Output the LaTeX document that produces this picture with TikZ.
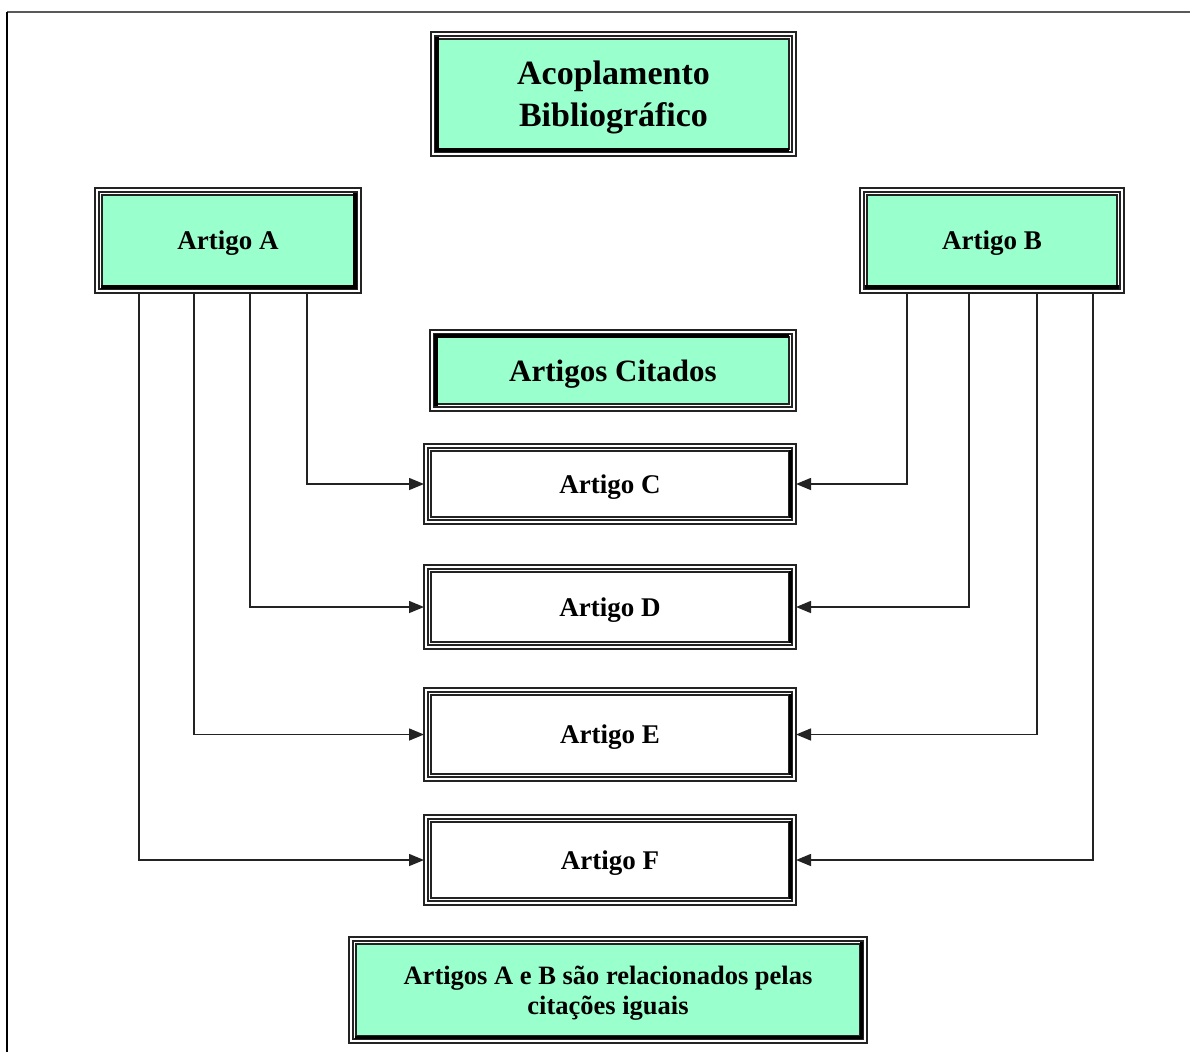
\documentclass[tikz,border=0pt]{standalone}
\usepackage{fontspec}
\setmainfont{Liberation Serif}
\usetikzlibrary{arrows.meta,backgrounds}
\definecolor{mint}{RGB}{153,255,204}
\definecolor{rule}{RGB}{35,35,35}
\begin{document}
\begin{tikzpicture}[x=1pt,y=-1pt,
  frame/.style={draw=rule,line width=1.3pt,inner sep=0pt,outer sep=0pt,align=center,
    text depth=0pt,font=\bfseries\fontsize{27}{30}\selectfont},
  link/.style={draw=rule,line width=1.5pt,-{Triangle[length=15pt,width=12pt]}},
  heavy/.style={draw=black,line width=4pt}]
\useasboundingbox (0,0) rectangle (1190,1052);
% page rules
\draw[gray!70!black,line width=2pt] (7,12) -- (1190,12);
\draw[black,line width=2pt] (7,12) -- (7,1052);

% boxes
\node[frame,minimum width=365,minimum height=124,font=\bfseries\fontsize{34}{42}\selectfont]
  (title) at (613.5,94) {Acoplamento\\Bibliográfico};
\node[frame,minimum width=266,minimum height=105] (A) at (228,240.5) {Artigo A};
\node[frame,minimum width=264,minimum height=105] (B) at (992,240.5) {Artigo B};
\node[frame,minimum width=366,minimum height=81,font=\bfseries\fontsize{31}{34}\selectfont]
  (cit) at (613,370.5) {Artigos Citados};
\node[frame,minimum width=372,minimum height=80] (C) at (610,484) {Artigo C};
\node[frame,minimum width=372,minimum height=84] (D) at (610,607) {Artigo D};
\node[frame,minimum width=372,minimum height=93] (E) at (610,734.5) {Artigo E};
\node[frame,minimum width=372,minimum height=90] (F) at (610,860) {Artigo F};
\node[frame,minimum width=518,minimum height=106,font=\bfseries\fontsize{26.5}{30}\selectfont]
  (bot) at (608,990) {Artigos A e B são relacionados pelas\\citações iguais};

% inner rules and fills of the framed boxes
\begin{scope}[on background layer]
\foreach \n/\c in {title/mint,A/mint,B/mint,cit/mint,bot/mint,C/white,D/white,E/white,F/white}{
  \draw[rule,line width=1.1pt] ([shift={(4pt,-4pt)}]\n.north west) rectangle ([shift={(-4pt,4pt)}]\n.south east);
  \draw[rule,line width=1.5pt,fill=\c] ([shift={(7pt,-7pt)}]\n.north west) rectangle ([shift={(-7pt,7pt)}]\n.south east);
}
% heavy edges of the frames
\draw[heavy] ([shift={(6pt,-5pt)}]title.north west) -- ([shift={(6pt,6pt)}]title.south west)
  -- ([shift={(-7pt,6pt)}]title.south east);
\draw[heavy] ([shift={(-6pt,-5pt)}]A.north east) -- ([shift={(-6pt,6pt)}]A.south east)
  -- ([shift={(6pt,6pt)}]A.south west);
\draw[heavy] ([shift={(-5pt,6pt)}]B.south east) -- ([shift={(5pt,6pt)}]B.south west);
\draw[heavy] ([shift={(6pt,5pt)}]cit.south west) -- ([shift={(6pt,-6pt)}]cit.north west)
  -- ([shift={(-7pt,-6pt)}]cit.north east);
\foreach \n in {C,D,E,F}
  \draw[heavy,line width=3pt] ([shift={(-6pt,-6pt)}]\n.north east) -- ([shift={(-6pt,6pt)}]\n.south east);
\draw[heavy,line width=3pt] ([shift={(-6pt,-5pt)}]bot.north east) -- ([shift={(-6pt,6pt)}]bot.south east)
  -- ([shift={(6pt,6pt)}]bot.south west);
\end{scope}

% citations from Artigo A
\draw[link] ([xshift=79]A.south) |- (C.west);
\draw[link] ([xshift=22]A.south) |- (D.west);
\draw[link] ([xshift=-34]A.south) |- (E.west);
\draw[link] ([xshift=-89]A.south) |- (F.west);
% citations from Artigo B
\draw[link] ([xshift=-85]B.south) |- (C.east);
\draw[link] ([xshift=-23]B.south) |- (D.east);
\draw[link] ([xshift=45]B.south) |- (E.east);
\draw[link] ([xshift=101]B.south) |- (F.east);
\end{tikzpicture}
\end{document}
